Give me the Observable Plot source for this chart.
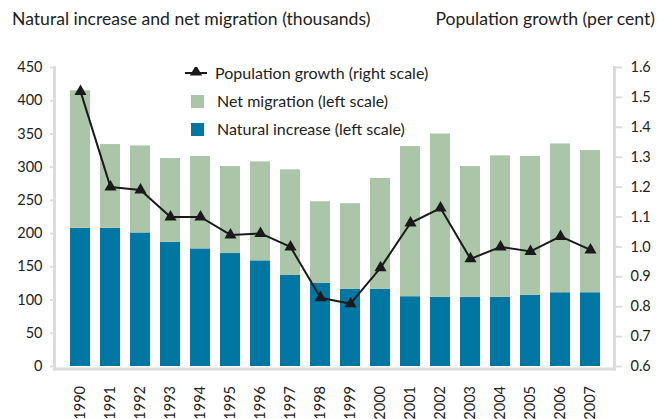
<!DOCTYPE html>
<html><head><meta charset="utf-8">
<script src="https://cdn.jsdelivr.net/npm/d3@7"></script>
<script src="https://cdn.jsdelivr.net/npm/@observablehq/plot@0.6"></script>
<style>
body{margin:0;background:#fff;font-family:Lato,"Open Sans",sans-serif;color:#222}
#wrap{position:relative;width:665px;height:419px;overflow:hidden}
#wrap > svg{position:absolute;left:0;top:0}
.t{position:absolute;font-size:17.6px;line-height:20px;white-space:nowrap}
.lg{position:absolute;font-size:16px;line-height:18px;white-space:nowrap;display:flex;align-items:center}
.sw{display:inline-block;width:13px;height:13px;margin-right:13px}
</style></head><body>
<div id="wrap"></div>
<script>
const years = ["1990","1991","1992","1993","1994","1995","1996","1997","1998","1999","2000","2001","2002","2003","2004","2005","2006","2007"];
const naturalIncrease = [208,208,201,187,177,170,159,137,125,116,116,105,104,104,104,107,111,111];
const netMigration = [207,126,131,126,139,131,149,159,123,129,167,226,246,197,213,209,224,214];
const populationGrowth = [1.52,1.20,1.19,1.10,1.10,1.04,1.045,1.00,0.83,0.81,0.93,1.08,1.13,0.96,1.00,0.985,1.035,0.99];
const leftTicks = [0,50,100,150,200,250,300,350,400,450];
const rightTicks = [0.6,0.7,0.8,0.9,1.0,1.1,1.2,1.3,1.4,1.5,1.6];
const seriesNames = ["Natural increase (left scale)","Net migration (left scale)","Population growth (right scale)"];
const colors = ["#0076a3","#abc5a9","#1a1a1a"];

const toLeft = g => (g - 0.6) * 450;   // map right-scale value onto left scale
const bars = [];
years.forEach((y,i) => {
  bars.push({year:y, series:seriesNames[0], value:naturalIncrease[i]});
  bars.push({year:y, series:seriesNames[1], value:netMigration[i]});
});
const growth = years.map((y,i) => ({year:y, growth:populationGrowth[i]}));

const chart = Plot.plot({
  width: 665, height: 419,
  marginTop: 67, marginBottom: 50.5, marginLeft: 54, marginRight: 51,
  style: {fontFamily: "Lato, 'Open Sans', sans-serif", fontSize: "14px", color: "#222", background: "transparent"},
  x: {domain: years, padding: 0.32, paddingOuter: 0.16, insetLeft: 3, label: null},
  y: {domain: [0,450], insetBottom: 2.5, label: null},
  color: {domain: seriesNames.slice(0,2), range: colors.slice(0,2)},
  marks: [
    Plot.barY(bars, {x: "year", y: "value", fill: "series", order: null}),
    Plot.frame({anchor: "left", stroke: "#dcdcdc", strokeWidth: 3}),
    Plot.frame({anchor: "right", stroke: "#dcdcdc", strokeWidth: 3}),
    Plot.frame({anchor: "bottom", stroke: "#dcdcdc", strokeWidth: 3}),
    Plot.axisY(leftTicks, {anchor: "left", tickSize: 4, tickPadding: 8, stroke: "#dcdcdc", strokeWidth: 2, fontSize: 14.5, label: null}),
    Plot.axisY(rightTicks.map(toLeft), {anchor: "right", tickSize: 7, tickPadding: 9, stroke: "#dcdcdc", strokeWidth: 2, fontSize: 14.5, label: null, tickFormat: d => (d/450 + 0.6).toFixed(1)}),
    Plot.axisX({anchor: "bottom", tickSize: 0, tickPadding: 17, tickRotate: -90, fontSize: 14.5, label: null}),
    Plot.line(growth, {x: "year", y: d => toLeft(d.growth), stroke: colors[2], strokeWidth: 2}),
    Plot.dot(growth, {x: "year", y: d => toLeft(d.growth), symbol: "triangle", r: 4.5, fill: colors[2], stroke: "none"})
  ]
});
const wrap = document.getElementById("wrap");
wrap.appendChild(chart);

function addDiv(cls, html, css) {
  const d = document.createElement("div");
  d.className = cls; d.innerHTML = html; Object.assign(d.style, css);
  wrap.appendChild(d);
}
addDiv("t", "Natural increase and net migration (thousands)", {left: "12px", top: "9px"});
addDiv("t", "Population growth (per cent)", {right: "10px", top: "9px"});
addDiv("lg", `<svg width="22" height="12" style="margin-right:8px"><line x1="0" y1="6" x2="22" y2="6" stroke="${colors[2]}" stroke-width="2"/><path d="${d3.symbol(d3.symbolTriangle, 64)()}" transform="translate(11,5)" fill="${colors[2]}"/></svg>${seriesNames[2]}`, {left: "185px", top: "64px"});
addDiv("lg", `<span class="sw" style="background:${colors[1]}"></span>${seriesNames[1]}`, {left: "191px", top: "92px"});
addDiv("lg", `<span class="sw" style="background:${colors[0]}"></span>${seriesNames[0]}`, {left: "191px", top: "120px"});
</script>
</body></html>
